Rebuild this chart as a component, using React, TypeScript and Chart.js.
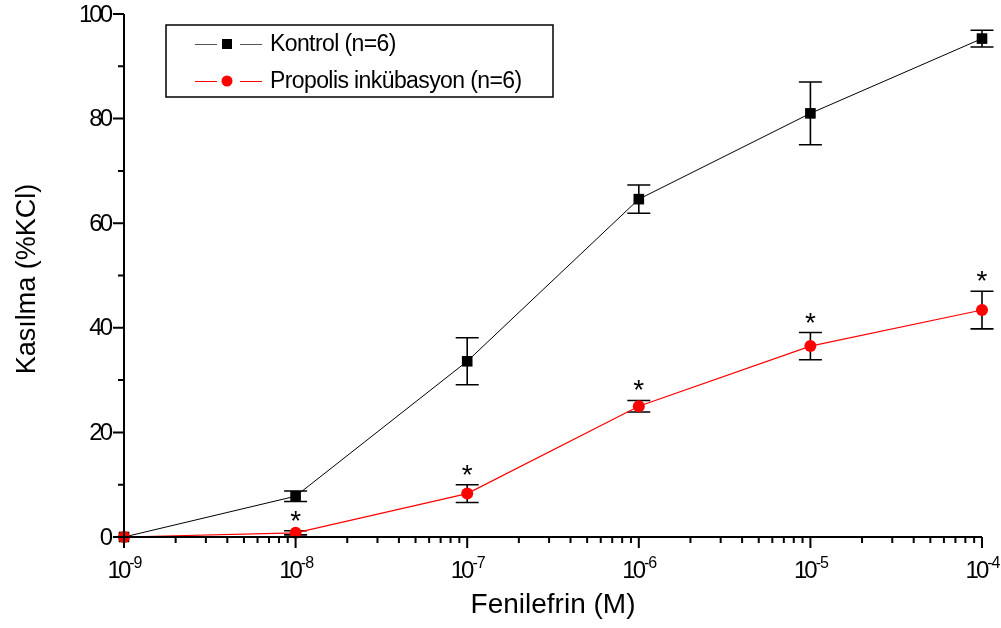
import React, { useEffect, useRef } from "react";
import { Chart, registerables } from "chart.js";

Chart.register(...registerables);

const concentrations = [1e-9, 1e-8, 1e-7, 1e-6, 1e-5, 1e-4];
const kontrolValues = [0, 7.8, 33.6, 64.6, 81.0, 95.3];
const kontrolErrors = [0, 1.0, 4.5, 2.7, 6.0, 1.6];
const propolisValues = [0, 0.8, 8.3, 25.0, 36.5, 43.4];
const propolisErrors = [0, 0.4, 1.7, 1.1, 2.6, 3.6];
const significant = [false, true, true, true, true, true];
const yTickValues = [0, 20, 40, 60, 80, 100];
const yMinorValues = [10, 30, 50, 70, 90];
const xExponents = [-9, -8, -7, -6, -5, -4];
const seriesNames = ["Kontrol (n=6)", "Propolis inkübasyon (n=6)"];
const xTitle = "Fenilefrin (M)";
const yTitle = "Kasılma (%KCl)";

const FONT = "'Liberation Sans', Arial, sans-serif";

const customPlugin = {
  id: "customAxes",
  beforeDatasetsDraw(chart: any) {
    const ctx = chart.ctx;
    const xs = chart.scales.x;
    const ys = chart.scales.y;
    ctx.save();
    ctx.strokeStyle = "#000";
    ctx.lineWidth = 1.6;
    const drawErr = (vals: number[], errs: number[]) => {
      vals.forEach((v, i) => {
        if (!errs[i]) return;
        const x = xs.getPixelForValue(concentrations[i]);
        const yt = ys.getPixelForValue(v + errs[i]);
        const yb = ys.getPixelForValue(v - errs[i]);
        ctx.beginPath();
        ctx.moveTo(x, yt);
        ctx.lineTo(x, yb);
        ctx.moveTo(x - 11.5, yt);
        ctx.lineTo(x + 11.5, yt);
        ctx.moveTo(x - 11.5, yb);
        ctx.lineTo(x + 11.5, yb);
        ctx.stroke();
      });
    };
    drawErr(kontrolValues, kontrolErrors);
    drawErr(propolisValues, propolisErrors);
    ctx.restore();
  },
  afterDraw(chart: any) {
    const ctx = chart.ctx;
    const xs = chart.scales.x;
    const ys = chart.scales.y;
    const area = chart.chartArea;
    ctx.save();
    ctx.strokeStyle = "#000";
    ctx.fillStyle = "#000";
    ctx.lineWidth = 2;
    ctx.beginPath();
    ctx.moveTo(area.left, area.top);
    ctx.lineTo(area.left, area.bottom);
    ctx.lineTo(area.right, area.bottom);
    ctx.stroke();
    ctx.beginPath();
    yTickValues.forEach((v) => {
      const y = ys.getPixelForValue(v);
      ctx.moveTo(area.left - 11, y);
      ctx.lineTo(area.left, y);
    });
    yMinorValues.forEach((v) => {
      const y = ys.getPixelForValue(v);
      ctx.moveTo(area.left - 6, y);
      ctx.lineTo(area.left, y);
    });
    xExponents.forEach((e, idx) => {
      const x = xs.getPixelForValue(Math.pow(10, e));
      ctx.moveTo(x, area.bottom);
      ctx.lineTo(x, area.bottom + 11);
      if (idx < xExponents.length - 1) {
        for (let m = 2; m <= 9; m++) {
          const xm = xs.getPixelForValue(m * Math.pow(10, e));
          ctx.moveTo(xm, area.bottom);
          ctx.lineTo(xm, area.bottom + 6);
        }
      }
    });
    ctx.stroke();

    // y labels
    ctx.font = `24px ${FONT}`;
    (ctx as any).letterSpacing = "-3px";
    ctx.textAlign = "right";
    ctx.textBaseline = "middle";
    yTickValues.forEach((v) => {
      const y = ys.getPixelForValue(v);
      ctx.fillText(String(v), 110, y + 1);
    });

    // x labels
    ctx.textAlign = "left";
    ctx.textBaseline = "alphabetic";
    xExponents.forEach((e) => {
      const x = xs.getPixelForValue(Math.pow(10, e));
      ctx.font = `24px ${FONT}`;
      (ctx as any).letterSpacing = "-3px";
      const base = "10";
      const wb = ctx.measureText(base).width;
      ctx.font = `16px ${FONT}`;
      (ctx as any).letterSpacing = "-1px";
      const sup = String(e);
      const ws = ctx.measureText(sup).width;
      const start = x - (wb + ws) / 2;
      ctx.font = `24px ${FONT}`;
      (ctx as any).letterSpacing = "-3px";
      ctx.fillText(base, start, 578);
      ctx.font = `16px ${FONT}`;
      (ctx as any).letterSpacing = "-1px";
      ctx.fillText(sup, start + wb + 1, 568);
    });
    (ctx as any).letterSpacing = "0px";

    // asterisks
    ctx.font = `28px ${FONT}`;
    ctx.textAlign = "center";
    ctx.textBaseline = "alphabetic";
    propolisValues.forEach((v, i) => {
      if (!significant[i]) return;
      const x = xs.getPixelForValue(concentrations[i]);
      const yt = ys.getPixelForValue(v + propolisErrors[i]);
      ctx.fillText("*", x, yt - 17 + 16);
    });

    // axis titles
    ctx.font = `28px ${FONT}`;
    ctx.textAlign = "center";
    ctx.textBaseline = "middle";
    ctx.fillText(xTitle, 553, 605);
    ctx.save();
    ctx.translate(28, 279);
    ctx.rotate(-Math.PI / 2);
    ctx.font = `27px ${FONT}`;
    ctx.fillText(yTitle, 0, 0);
    ctx.restore();

    // legend
    ctx.lineWidth = 1.5;
    ctx.strokeStyle = "#000";
    ctx.strokeRect(166, 25, 387, 72);
    const rows = [
      { y: 44, color: "#555", mark: "#000", shape: "rect", text: seriesNames[0] },
      { y: 81, color: "#ff0000", mark: "#ff0000", shape: "circle", text: seriesNames[1] },
    ];
    rows.forEach((r) => {
      ctx.strokeStyle = r.color;
      ctx.lineWidth = 1;
      ctx.beginPath();
      ctx.moveTo(195, r.y + 0.5);
      ctx.lineTo(217, r.y + 0.5);
      ctx.moveTo(240, r.y + 0.5);
      ctx.lineTo(262, r.y + 0.5);
      ctx.stroke();
      ctx.fillStyle = r.mark;
      if (r.shape === "rect") {
        ctx.fillRect(222, r.y - 5, 10, 10);
      } else {
        ctx.beginPath();
        ctx.arc(227, r.y, 5.5, 0, Math.PI * 2);
        ctx.fill();
      }
      ctx.fillStyle = "#000";
      ctx.font = `23px ${FONT}`;
      (ctx as any).letterSpacing = "-0.6px";
      ctx.textAlign = "left";
      ctx.textBaseline = "middle";
      ctx.fillText(r.text, 270, r.y + 1);
    });
    (ctx as any).letterSpacing = "0px";
    ctx.restore();
  },
};

export default function App() {
  const ref = useRef<HTMLCanvasElement | null>(null);
  useEffect(() => {
    if (!ref.current) return;
    const chart = new Chart(ref.current, {
      type: "line",
      data: {
        datasets: [
          {
            label: seriesNames[0],
            data: concentrations.map((c, i) => ({ x: c, y: kontrolValues[i] })),
            borderColor: "#000",
            backgroundColor: "#000",
            borderWidth: 1,
            pointStyle: "rect",
            pointRadius: 7.5,
            pointBorderWidth: 0,
            pointBackgroundColor: "#000",
            clip: false,
            order: 2,
          } as any,
          {
            label: seriesNames[1],
            data: concentrations.map((c, i) => ({ x: c, y: propolisValues[i] })),
            borderColor: "#ff0000",
            backgroundColor: "#ff0000",
            borderWidth: 1.2,
            pointStyle: "circle",
            pointRadius: 6,
            pointBorderWidth: 0,
            pointBackgroundColor: "#ff0000",
            clip: false,
            order: 1,
          } as any,
        ],
      },
      options: {
        animation: false,
        responsive: false,
        devicePixelRatio: 1,
        layout: { padding: { left: 124, right: 19, top: 14, bottom: 91 } },
        plugins: { legend: { display: false }, tooltip: { enabled: false } },
        scales: {
          x: { type: "logarithmic", min: 1e-9, max: 1e-4, display: false },
          y: { type: "linear", min: 0, max: 100, display: false },
        },
      },
      plugins: [customPlugin],
    });
    return () => chart.destroy();
  }, []);
  return (
    <div style={{ position: "fixed", left: 0, top: 0, width: 1001, height: 628, background: "#fff" }}>
      <canvas ref={ref} width={1001} height={628} style={{ width: 1001, height: 628, display: "block" }} />
    </div>
  );
}
